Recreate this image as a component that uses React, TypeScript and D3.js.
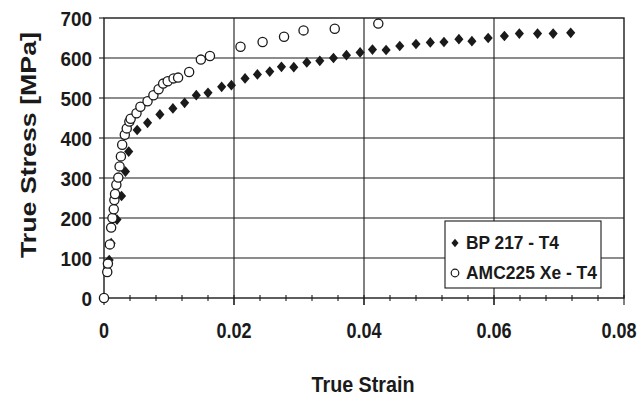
import React from 'react';
import * as d3 from 'd3';

// BP 217 - T4 (filled diamonds)
const bpStrain = [0.0008, 0.0011, 0.002, 0.0027, 0.0033, 0.0038, 0.0051, 0.0067, 0.0086, 0.0106, 0.0124, 0.0142, 0.016, 0.0181, 0.0196, 0.0217, 0.0236, 0.0255, 0.0273, 0.0292, 0.0312, 0.0332, 0.0353, 0.0373, 0.0394, 0.0413, 0.0434, 0.0455, 0.048, 0.0502, 0.0523, 0.0546, 0.0566, 0.0591, 0.0616, 0.0639, 0.0667, 0.0691, 0.0718];
const bpStress = [95, 137, 196, 255, 316, 366, 420, 438, 459, 474, 488, 507, 513, 528, 532, 549, 559, 566, 578, 577, 589, 593, 600, 607, 614, 621, 620, 630, 635, 639, 640, 647, 642, 650, 655, 661, 661, 661, 663];

// AMC225 Xe - T4 (open circles)
const amcStrain = [0, 0.0005, 0.0006, 0.0009, 0.0011, 0.0013, 0.0015, 0.0016, 0.0017, 0.0019, 0.0022, 0.0024, 0.0026, 0.0028, 0.0032, 0.0035, 0.0039, 0.0041, 0.005, 0.0056, 0.0067, 0.0076, 0.0084, 0.0091, 0.0098, 0.0107, 0.0114, 0.0131, 0.0149, 0.0163, 0.021, 0.0244, 0.0277, 0.0307, 0.0355, 0.0422];
const amcStress = [0, 65, 86, 134, 176, 200, 222, 245, 260, 283, 301, 329, 354, 383, 408, 424, 441, 448, 462, 478, 492, 507, 522, 536, 542, 549, 551, 565, 596, 605, 628, 640, 653, 669, 673, 686];

const xTicks = [0, 0.02, 0.04, 0.06, 0.08];
const xTickLabels = ['0', '0.02', '0.04', '0.06', '0.08'];
const yTicks = [0, 100, 200, 300, 400, 500, 600, 700];
const seriesNames = ['BP 217 - T4', 'AMC225 Xe - T4'];

const font = '"Liberation Sans", Arial, sans-serif';
const ink = '#1a1a1a';

// a squat diamond, a bit taller than wide like the scanned markers
const squatDiamond = {
  draw(context: any, size: number) {
    const h = Math.sqrt(size) * 0.62;
    const wd = h * 0.85;
    context.moveTo(0, -h);
    context.lineTo(wd, 0);
    context.lineTo(0, h);
    context.lineTo(-wd, 0);
    context.closePath();
  },
};

export default function App() {
  const width = 644;
  const height = 400;
  const left = 104, right = 624, top = 18, bottom = 298;

  const x = d3.scaleLinear().domain([0, 0.08]).range([left, right]);
  const y = d3.scaleLinear().domain([0, 700]).range([bottom, top]);

  const minorTicks = d3.range(0, 0.0801, 0.004);
  const diamond = d3.symbol().type(squatDiamond as any).size(75)();
  const diamondSmall = d3.symbol().type(squatDiamond as any).size(45)();

  const bp = bpStrain.map((s, i) => [s, bpStress[i]]);
  const amc = amcStrain.map((s, i) => [s, amcStress[i]]);

  // narrow look of the scanned lettering
  const w = (t: string, size: number) =>
    t.split('').reduce((a, c) => a + (c === '.' ? 0.278 : 0.556), 0) * size;

  return (
    <svg width={width} height={height} style={{ position: 'absolute', left: 0, top: 0, background: '#fff' }}>
      {/* gridlines */}
      {yTicks.slice(1, -1).map(t => (
        <line key={'gy' + t} x1={left} x2={right} y1={y(t)} y2={y(t)} stroke={ink} strokeWidth={1.1} />
      ))}
      {xTicks.slice(1, -1).map(t => (
        <line key={'gx' + t} x1={x(t)} x2={x(t)} y1={top} y2={bottom + 7} stroke={ink} strokeWidth={1.1} />
      ))}
      {/* frame */}
      <rect x={left} y={top} width={right - left} height={bottom - top} fill="none" stroke={ink} strokeWidth={1.4} />

      {/* x minor ticks */}
      {minorTicks.map((t, i) => (
        <line key={'mx' + i} x1={x(t)} x2={x(t)} y1={bottom - 3} y2={bottom + (i % 5 === 0 ? 7 : 3)} stroke={ink} strokeWidth={1.1} />
      ))}
      {/* y ticks */}
      {yTicks.map(t => (
        <line key={'ty' + t} x1={left - 5} x2={left} y1={y(t)} y2={y(t)} stroke={ink} strokeWidth={1.1} />
      ))}

      {/* tick labels */}
      {yTicks.map(t => (
        <text key={'ly' + t} x={92} y={y(t) + 7.5} textAnchor="end" fontFamily={font} fontWeight="bold" fontSize={21}
          textLength={w(String(t), 21) * 0.9} lengthAdjust="spacingAndGlyphs" fill={ink}>{t}</text>
      ))}
      {xTicks.map((t, i) => (
        <text key={'lx' + t} x={i === xTicks.length - 1 ? x(t) - 5 : x(t)} y={338} textAnchor="middle" fontFamily={font} fontWeight="bold" fontSize={22}
          textLength={w(xTickLabels[i], 22) * 0.82} lengthAdjust="spacingAndGlyphs" fill={ink}>{xTickLabels[i]}</text>
      ))}

      {/* axis titles */}
      <text x={363} y={392} textAnchor="middle" fontFamily={font} fontWeight="bold" fontSize={22}
        textLength={103} lengthAdjust="spacingAndGlyphs" fill={ink}>True Strain</text>
      <text transform="translate(36,145) rotate(-90)" textAnchor="middle" fontFamily={font} fontWeight="bold" fontSize={22}
        textLength={226} lengthAdjust="spacingAndGlyphs" fill={ink}>True Stress [MPa]</text>

      {/* BP 217 diamonds */}
      {bp.map((d, i) => (
        <path key={'bp' + i} d={diamond} transform={`translate(${x(d[0])},${y(d[1])})`} fill={ink} />
      ))}
      {/* AMC225 circles */}
      {amc.map((d, i) => (
        <circle key={'amc' + i} cx={x(d[0])} cy={y(d[1])} r={4.6} fill="#fff" stroke={ink} strokeWidth={1.3} />
      ))}

      {/* legend */}
      <rect x={445} y={221} width={156} height={67} fill="#fff" stroke={ink} strokeWidth={1.1} />
      <path d={diamondSmall} transform="translate(455,243)" fill={ink} />
      <text x={466} y={249} fontFamily={font} fontWeight="bold" fontSize={18} textLength={93} lengthAdjust="spacingAndGlyphs" fill={ink}>{seriesNames[0]}</text>
      <circle cx={455} cy={273} r={3.8} fill="#fff" stroke={ink} strokeWidth={1.2} />
      <text x={466} y={279} fontFamily={font} fontWeight="bold" fontSize={18} textLength={131} lengthAdjust="spacingAndGlyphs" fill={ink}>{seriesNames[1]}</text>
    </svg>
  );
}
